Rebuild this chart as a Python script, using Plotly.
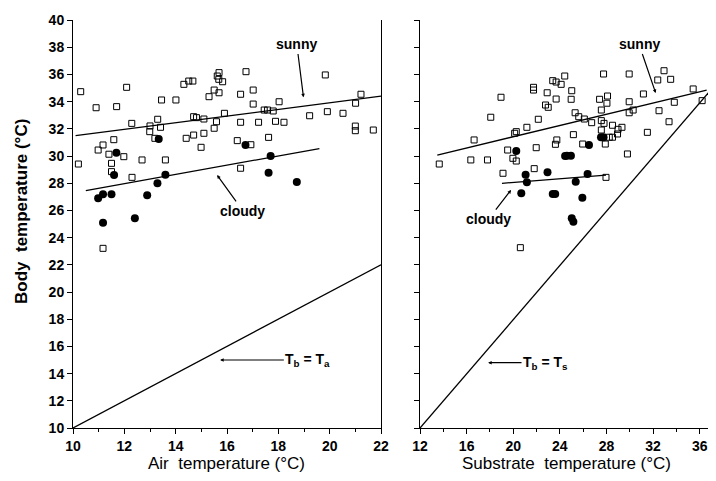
import plotly.graph_objects as go

# --- data ---
# air temperature panel
air_sunny_x = [10.30, 12.09, 10.90, 11.70, 13.45, 14.01, 14.32, 14.51, 14.67, 15.69,
               15.62, 15.68, 15.83, 15.30, 15.50, 15.69, 12.29, 13.00, 12.99, 13.30,
               13.41, 14.70, 14.81, 15.10, 15.50, 15.59, 15.90, 13.19, 14.41, 14.70,
               15.10, 14.99, 11.59, 11.17, 10.98, 11.40, 11.98, 10.21, 11.50, 12.69,
               13.60, 11.50, 12.30, 11.17, 16.74, 16.53, 17.02, 17.02, 18.03, 17.45,
               17.58, 17.80, 19.83, 21.22, 21.01, 19.22, 19.91, 20.52, 16.53, 17.23,
               17.89, 18.22, 21.00, 21.00, 21.70, 16.40, 16.93, 17.62, 16.53]
air_sunny_y = [34.73, 35.05, 33.55, 33.63, 34.12, 34.12, 35.27, 35.51, 35.51, 36.13,
               35.88, 35.64, 35.46, 34.36, 34.85, 34.65, 32.40, 32.21, 31.79, 32.70,
               32.11, 32.89, 32.82, 32.72, 32.04, 32.52, 33.14, 31.30, 31.30, 31.54,
               31.67, 30.64, 31.20, 30.81, 30.44, 30.13, 29.95, 29.41, 29.46, 29.71,
               29.71, 28.85, 28.43, 23.21, 36.20, 34.54, 34.85, 33.82, 33.99, 33.38,
               33.38, 33.31, 35.96, 34.54, 33.88, 32.96, 33.26, 33.14, 32.48, 32.48,
               32.55, 32.48, 31.86, 32.20, 31.91, 31.13, 30.83, 31.37, 29.10]
air_cloudy_x = [13.34, 11.69, 11.60, 13.60, 13.29, 10.98, 11.17, 11.50, 12.89, 11.17,
                12.41, 16.72, 17.70, 17.62, 18.72]
air_cloudy_y = [31.25, 30.24, 28.60, 28.62, 27.99, 26.89, 27.18, 27.18, 27.11, 25.10,
                25.42, 30.81, 30.00, 28.77, 28.09]
air_sunny_fit_x = [10.1, 22.0]
air_sunny_fit_y = [31.5, 34.4]
air_cloudy_fit_x = [10.5, 19.6]
air_cloudy_fit_y = [27.45, 30.55]
air_equal_x = [10, 22]
air_equal_y = [10, 22]

# substrate temperature panel
sub_sunny_x = [24.42, 23.39, 23.68, 24.11, 21.74, 21.74, 18.95, 22.91, 23.68, 22.77,
               23.00, 18.07, 22.15, 21.17, 20.26, 16.64, 13.65, 16.36, 17.79, 19.52,
               19.97, 20.26, 21.97, 23.62, 23.74, 19.12, 21.80, 25.16, 25.96, 20.61,
               20.12, 25.02, 24.97, 27.75, 29.95, 32.94, 33.51, 32.40, 31.17, 27.41,
               28.09, 28.04, 29.95, 29.95, 30.29, 27.56, 25.31, 25.62, 26.10, 26.73,
               27.56, 27.79, 32.51, 33.37, 33.82, 35.44, 36.21, 27.56, 28.52, 28.99,
               29.33, 28.24, 28.52, 28.95, 27.90, 31.51, 29.80, 27.96]
sub_sunny_y = [35.88, 35.54, 35.44, 35.27, 35.05, 34.85, 34.32, 34.65, 34.19, 33.75,
               33.58, 32.85, 32.70, 32.11, 31.79, 31.18, 29.41, 29.71, 29.71, 30.44,
               29.83, 29.63, 30.61, 30.86, 31.18, 28.73, 29.07, 31.57, 30.88, 23.26,
               31.67, 34.80, 34.17, 36.03, 36.03, 36.27, 35.64, 35.59, 34.56, 34.17,
               34.41, 33.88, 33.99, 33.18, 33.38, 33.38, 33.18, 32.89, 32.72, 32.45,
               32.60, 32.40, 33.33, 32.52, 33.95, 34.93, 34.07, 31.91, 32.26, 31.96,
               32.11, 31.38, 31.38, 31.62, 30.88, 31.74, 30.15, 28.43]
sub_cloudy_x = [20.26, 24.45, 21.06, 22.94, 26.50, 24.60, 24.95, 26.38, 21.17, 25.36,
                20.69, 23.39, 23.60, 25.93, 25.02, 25.16, 27.53, 27.75]
sub_cloudy_y = [30.37, 30.00, 28.63, 28.80, 30.81, 30.02, 30.02, 28.68, 28.07, 28.11,
                27.26, 27.21, 27.21, 26.93, 25.42, 25.17, 31.38, 31.38]
sub_sunny_fit_x = [13.48, 36.6]
sub_sunny_fit_y = [30.07, 34.85]
sub_cloudy_fit_x = [19.03, 27.96]
sub_cloudy_fit_y = [27.99, 28.60]
sub_equal_x = [12, 37.4]
sub_equal_y = [10, 35.3]

x_ticks_air = [10, 12, 14, 16, 18, 20, 22]
x_ticks_sub = [12, 16, 20, 24, 28, 32, 36]
y_ticks = list(range(10, 41, 2))

FONT = "Liberation Sans, Arial, sans-serif"
open_marker = dict(symbol="square-open", size=6, color="black", line=dict(width=1, color="black"))
dot_marker = dict(symbol="circle", size=8, color="black")
fit_line = dict(color="black", width=1.3)

fig = go.Figure()

# left panel
fig.add_trace(go.Scatter(x=air_sunny_x, y=air_sunny_y, mode="markers", marker=open_marker, xaxis="x", yaxis="y"))
fig.add_trace(go.Scatter(x=air_cloudy_x, y=air_cloudy_y, mode="markers", marker=dot_marker, xaxis="x", yaxis="y"))
fig.add_trace(go.Scatter(x=air_sunny_fit_x, y=air_sunny_fit_y, mode="lines", line=fit_line, xaxis="x", yaxis="y"))
fig.add_trace(go.Scatter(x=air_cloudy_fit_x, y=air_cloudy_fit_y, mode="lines", line=fit_line, xaxis="x", yaxis="y"))
fig.add_trace(go.Scatter(x=air_equal_x, y=air_equal_y, mode="lines", line=fit_line, xaxis="x", yaxis="y"))

# right panel
fig.add_trace(go.Scatter(x=sub_sunny_x, y=sub_sunny_y, mode="markers", marker=open_marker, xaxis="x2", yaxis="y2"))
fig.add_trace(go.Scatter(x=sub_cloudy_x, y=sub_cloudy_y, mode="markers", marker=dot_marker, xaxis="x2", yaxis="y2"))
fig.add_trace(go.Scatter(x=sub_sunny_fit_x, y=sub_sunny_fit_y, mode="lines", line=fit_line, xaxis="x2", yaxis="y2"))
fig.add_trace(go.Scatter(x=sub_cloudy_fit_x, y=sub_cloudy_fit_y, mode="lines", line=fit_line, xaxis="x2", yaxis="y2"))
fig.add_trace(go.Scatter(x=sub_equal_x, y=sub_equal_y, mode="lines", line=fit_line, xaxis="x2", yaxis="y2"))

axis_common = dict(showgrid=False, zeroline=False, showline=True, linecolor="black", linewidth=1,
                   ticks="outside", tickcolor="black", ticklen=5, automargin=False,
                   tickfont=dict(family=FONT, size=14, color="black", weight="bold"))

# the page body adds an 8px offset, so the figure is 8px smaller each way
fig.update_layout(
    width=708, height=473,
    margin=dict(l=65, r=0, t=12, b=53),
    paper_bgcolor="white", plot_bgcolor="white",
    showlegend=False,
    font=dict(family=FONT, color="black"),
    xaxis=dict(axis_common, domain=[0, 0.479], range=[10, 22], tickvals=x_ticks_air,
               minor=dict(dtick=1, ticks="outside", ticklen=3, tickcolor="black")),
    yaxis=dict(axis_common, domain=[0, 1], range=[10, 40], tickvals=y_ticks, mirror=True),
    xaxis2=dict(axis_common, domain=[0.5397, 1], range=[12, 37.4], tickvals=x_ticks_sub,
                minor=dict(dtick=2, ticks="outside", ticklen=3, tickcolor="black"),
                anchor="y2"),
    yaxis2=dict(axis_common, domain=[0, 1], range=[10, 40], tickvals=y_ticks,
                showticklabels=False, anchor="x2"),
)

ann_font = dict(family=FONT, size=14, color="black", weight="bold")
title_font = dict(family=FONT, size=17, color="black")
annotations = [
    dict(xref="x", yref="y", x=18.99, y=34.17, ax=18.72, ay=38.2, axref="x", ayref="y",
         text="sunny", showarrow=True, arrowhead=2, arrowsize=0.6, arrowwidth=1.2, standoff=2),
    dict(xref="x", yref="y", x=15.57, y=28.72, ax=16.62, ay=25.96, axref="x", ayref="y",
         text="cloudy", showarrow=True, arrowhead=2, arrowsize=0.6, arrowwidth=1.2, standoff=2),
    dict(xref="x", yref="y", x=15.73, y=15.0, ax=19.15, ay=15.0, axref="x", ayref="y",
         text="T<sub>b</sub> = T<sub>a</sub>", showarrow=True, arrowhead=2, arrowsize=0.6,
         arrowwidth=1.2, standoff=0),
    dict(xref="x2", yref="y2", x=32.28, y=34.49, ax=30.8, ay=38.2, axref="x2", ayref="y2",
         text="sunny", showarrow=True, arrowhead=2, arrowsize=0.6, arrowwidth=1.2, standoff=2),
    dict(xref="x2", yref="y2", x=19.92, y=27.62, ax=17.87, ay=25.36, axref="x2", ayref="y2",
         text="cloudy", showarrow=True, arrowhead=2, arrowsize=0.6, arrowwidth=1.2, standoff=2),
    dict(xref="x2", yref="y2", x=17.84, y=14.8, ax=22.77, ay=14.8, axref="x2", ayref="y2",
         text="T<sub>b</sub> = T<sub>s</sub>", showarrow=True, arrowhead=2, arrowsize=0.6,
         arrowwidth=1.2, standoff=0),
]
for a in annotations:
    a["font"] = ann_font
    a["arrowcolor"] = "black"

# axis titles placed as paper annotations
annotations += [
    dict(xref="paper", yref="paper", x=0.2395, y=-0.088, yanchor="middle", xanchor="center",
         text="Air  temperature (°C)", showarrow=False, font=title_font),
    dict(xref="paper", yref="paper", x=0.768, y=-0.088, yanchor="middle", xanchor="center",
         text="Substrate  temperature (°C)", showarrow=False, font=title_font),
    dict(xref="paper", yref="paper", x=-0.079, y=0.53, yanchor="middle", xanchor="center",
         text="Body  temperature (°C)", textangle=-90, showarrow=False,
         font=dict(title_font, weight="bold")),
]
fig.update_layout(annotations=annotations)

fig.write_html("out.html")
